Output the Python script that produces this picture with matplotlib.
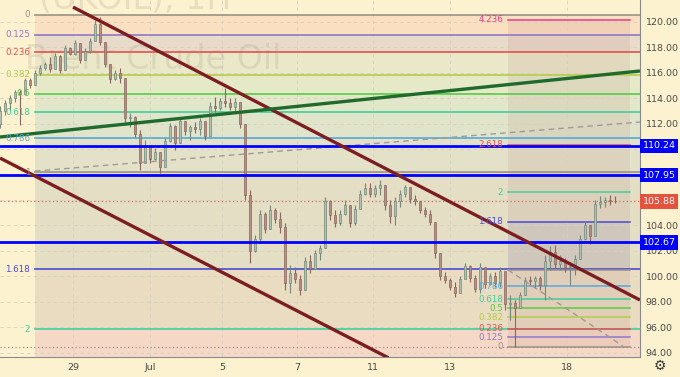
import numpy as np
import matplotlib
matplotlib.use("Agg")
import matplotlib.pyplot as plt
import matplotlib.transforms as mtransforms

# ---- data (prices, time in trading days from 29 Jun) ----
T0 = -1.921
STEP = 0.1316
OPEN_FIRST = 112.0
highs = [113.4, 113.85, 114.24, 114.63, 114.6, 115.58, 115.58, 116.21, 116.6, 116.83,
         117.23, 117.54, 117.38, 118.17, 118.01, 118.56, 118.3, 117.93, 118.72, 120.13,
         120.37, 118.4, 116.7, 116.21, 116.36, 115.6, 112.83, 112.6, 111.49, 110.71,
         110.2, 110.08, 109.8, 110.86, 112.04, 111.89, 112.44, 112.2, 111.89, 112.12,
         112.44, 112.2, 113.69, 114.09, 114.01, 114.79, 114.01, 114.01, 113.7, 112.0,
         106.78, 103.25, 105.21, 105.05, 105.6, 105.37, 105.05, 104.19, 100.89, 100.73,
         100.1, 101.52, 101.67, 102.07, 102.46, 106.23, 105.99, 105.21, 105.21, 105.99,
         105.6, 105.6, 106.78, 107.33, 107.33, 107.17, 107.57, 107.2, 105.99, 106.23,
         106.78, 107.17, 107.0, 106.39, 105.9, 105.44, 105.21, 104.3, 101.8, 100.34,
         99.87, 99.55, 100.02, 101.05, 100.89, 100.1, 101.05, 100.7, 100.26, 100.34,
         100.73, 100.4, 98.53, 98.14, 98.77, 99.95, 100.02, 100.02, 100.02, 101.67,
         102.38, 102.46, 101.67, 101.44, 101.12, 101.67, 103.25, 104.27, 104.0, 105.99,
         106.31, 106.23, 106.39, 106.31]
lows = [111.65, 112.67, 113.06, 113.69, 111.9, 114.3, 114.79, 115.0, 115.81, 116.21,
        116.05, 116.3, 115.97, 116.2, 117.38, 117.38, 116.76, 116.99, 117.54, 118.5,
        118.17, 116.44, 115.18, 115.42, 115.18, 112.04, 111.73, 110.94, 108.35, 108.9,
        108.9, 109.14, 108.12, 108.59, 110.55, 109.92, 110.5, 111.1, 110.71, 111.26,
        111.1, 110.71, 111.0, 112.91, 113.06, 113.3, 113.06, 112.83, 111.65, 105.99,
        101.05, 101.91, 102.62, 103.4, 103.7, 104.19, 103.4, 98.93, 98.69, 99.48,
        98.53, 98.9, 100.26, 100.6, 101.28, 102.2, 104.42, 103.87, 104.03, 104.82,
        103.87, 104.03, 105.3, 106.39, 106.23, 106.23, 106.39, 105.21, 104.19, 104.03,
        105.44, 106.23, 105.76, 105.6, 104.97, 104.66, 104.03, 101.44, 99.71, 99.48,
        98.93, 98.38, 98.7, 99.8, 99.55, 98.77, 98.69, 99.08, 99.32, 99.16,
        99.16, 97.35, 96.57, 94.45, 97.5, 98.5, 99.32, 99.08, 98.93, 98.14,
        100.5, 100.65, 100.5, 100.34, 99.32, 100.1, 101.4, 102.85, 102.54, 103.2,
        105.37, 105.44, 105.6, 105.76]
closes = [113.0, 113.6, 114.0, 114.5, 114.3, 115.4, 115.0, 116.0, 116.4, 116.7,
          116.3, 117.3, 116.2, 117.9, 117.5, 118.3, 117.0, 117.7, 118.5, 119.8,
          118.4, 116.7, 115.5, 116.0, 115.6, 112.4, 112.5, 111.2, 108.9, 110.2,
          109.2, 109.8, 108.6, 110.6, 111.8, 110.5, 112.2, 111.4, 111.7, 111.6,
          112.2, 111.0, 113.4, 113.2, 113.8, 113.6, 113.3, 113.7, 112.0, 106.4,
          102.0, 102.9, 104.9, 103.7, 105.2, 104.5, 103.9, 99.5, 100.3, 99.8,
          98.9, 101.2, 100.6, 101.8, 102.2, 105.9, 104.8, 104.2, 104.9, 105.6,
          104.2, 105.3, 106.5, 106.9, 106.5, 106.9, 107.2, 105.6, 104.7, 105.9,
          106.5, 107.0, 106.1, 105.9, 105.2, 104.9, 104.3, 101.8, 100.0, 99.7,
          99.2, 98.7, 99.8, 100.8, 99.9, 99.0, 100.7, 99.4, 100.0, 99.5,
          100.4, 97.8, 97.9, 97.5, 98.5, 99.7, 99.6, 99.9, 99.3, 101.2,
          101.9, 101.0, 101.2, 100.7, 100.8, 101.4, 102.9, 104.0, 103.2, 105.7,
          105.8, 106.0, 105.9, 105.88]

tick_pos = [0, 2.03, 3.92, 5.89, 7.89, 9.92, 13.0]
tick_lab = ["29", "Jul", "5", "7", "11", "13", "18"]
price_ticks = [94, 96, 98, 100, 102, 104, 112, 114, 116, 118, 120]

# big fibonacci retracement
FIB_X0 = -1.0
FIB_P0, FIB_P1 = 120.53, 108.19
fib_levels = [0, 0.125, 0.236, 0.382, 0.5, 0.618, 0.786, 1, 1.618, 2, 2.618]
fib_labels = ["0", "0.125", "0.236", "0.382", "0.5", "0.618", "0.786", "1", "1.618", "2", ""]
fib_colors = ["#9b9284", "#8f78c8", "#e0534f", "#b3cc4a", "#55cc44", "#3fcf9c",
              "#52a9e0", "#9b9284", "#4b4bd6", "#3fcf9c", "#e0534f"]
fib_bands = ["#fbdfc1", "#e8dbc9", "#ebe8c9", "#e5e9c8", "#e2e7c9", "#e0e4ca",
             "#e3e2c8", "#e3dec4", "#e9dcc1", "#f5d9c6"]

# fibonacci extension
EXT_X0, EXT_X1 = 11.45, 14.66
EXT_P0, EXT_R = 94.45, 6.07
ext_levels = [0, 0.125, 0.236, 0.382, 0.5, 0.618, 0.786, 1, 1.618, 2, 2.618, 4.236]
ext_labels = ["0", "0.125", "0.236", "0.382", "0.5", "0.618", "0.786", "", "1.618", "2", "2.618", "4.236"]
ext_colors = ["#9b9284", "#8f78c8", "#e0534f", "#b3cc4a", "#55cc44", "#3fcf9c",
              "#52a9e0", "#9b9284", "#4b4bd6", "#3fcf9c", "#e0534f", "#e0408a"]

# horizontal levels
blue_levels = [110.24, 107.95, 102.67]
last_price = 105.88
low_price = 94.45

# drawn lines (time, price)
chan_up = ([0.0, 14.92], [121.15, 98.14])
chan_dn = ([-1.921, 8.3], [109.29, 93.6])
green_line = ([-1.921, 14.92], [110.94, 116.13])
dash_1 = ([-1.0, 14.92], [108.27, 112.12])
dash_2 = ([11.45, 14.47], [100.50, 94.53])

BG = "#fdf2cf"
XMIN, XMAX = -1.921, 14.921
YMIN, YMAX = 93.663, 121.705

fig = plt.figure(figsize=(6.8, 3.77), dpi=100, facecolor=BG)
ax = fig.add_axes([0, 20 / 377, 640 / 680, 357 / 377])
ax.set_facecolor(BG)
ax.set_xlim(XMIN, XMAX)
ax.set_ylim(YMIN, YMAX)

# watermark
ax.text(-1.25, 117.0, "Brent Crude Oil", fontsize=24, color="#a09a88", alpha=0.22,
        ha="left", va="center", zorder=0.6)
ax.text(-0.9, 121.0, "(UKOIL), 1H", fontsize=24, color="#a09a88", alpha=0.22,
        ha="left", va="baseline", zorder=0.6)

# big fib bands and lines
fib_p = [FIB_P0 - l * (FIB_P0 - FIB_P1) for l in fib_levels]
for i in range(len(fib_bands)):
    ax.fill_between([FIB_X0, XMAX], fib_p[i + 1], fib_p[i], color=fib_bands[i],
                    lw=0, zorder=0.1)
for p, lab, c in zip(fib_p[:-1], fib_labels, fib_colors):
    ax.plot([FIB_X0, XMAX], [p, p], color=c, lw=1.2, zorder=1)
    ax.annotate(lab, xy=(FIB_X0, p), xytext=(-3.5, 0), textcoords="offset points",
                ha="right", va="center", fontsize=6.3, color=c, zorder=5)

# extension overlay
ext_p = [EXT_P0 + l * EXT_R for l in ext_levels]
ax.fill_between([EXT_X0, EXT_X1], ext_p[0], ext_p[-1], color="#b88a8a", alpha=0.16,
                lw=0, zorder=0.3)
ax.fill_between([EXT_X0, EXT_X1], ext_p[7], ext_p[8], color="#6a7ad0", alpha=0.10,
                lw=0, zorder=0.3)
for p, lab, c in zip(ext_p, ext_labels, ext_colors):
    ax.plot([EXT_X0, EXT_X1], [p, p], color=c, lw=1.1, zorder=1)
    if lab:
        ax.annotate(lab, xy=(EXT_X0, p), xytext=(-3.5, 0), textcoords="offset points",
                    ha="right", va="center", fontsize=6.3, color=c, zorder=5)

# grid
for y in range(94, 122, 2):
    ax.axhline(y, color="#d8d0c0", lw=0.6, ls=(0, (4, 4)), zorder=0.5)
for x in tick_pos:
    ax.axvline(x, color="#d8d0c0", lw=0.6, ls=(0, (4, 4)), zorder=0.5)

# candles
t = T0 + STEP * np.arange(len(closes))
opens = [OPEN_FIRST] + closes[:-1]
o = np.array(opens); c = np.array(closes); h = np.array(highs); l = np.array(lows)
up = c >= o
wick = np.where(up, "#74887a", "#8a675e")
body = np.where(up, "#b3c0b4", "#b39189")
ax.vlines(t, l, h, colors=wick, lw=0.8, zorder=2)
ax.bar(t, np.maximum(np.abs(c - o), 0.06), bottom=np.minimum(o, c), width=STEP * 0.4,
       color=body, edgecolor=wick, linewidth=0.5, zorder=2.1)

# horizontal lines
ax.axhline(last_price, color="#d0706a", lw=0.9, ls=(0, (1, 2)), zorder=1.5)
ax.axhline(low_price, color="#9a8c8c", lw=0.9, ls=(0, (1, 2)), zorder=1.5)
for p in blue_levels:
    ax.axhline(p, color="#0000ff", lw=2.0, zorder=3)

# trend lines
ax.plot(*dash_1, color="#a09a94", lw=1.0, ls=(0, (4, 3)), zorder=2.5)
ax.plot(*dash_2, color="#a09a94", lw=1.0, ls=(0, (4, 3)), zorder=2.5)
ax.plot(*chan_up, color="#7c1d22", lw=2.4, zorder=3, solid_capstyle="butt")
ax.plot(*chan_dn, color="#7c1d22", lw=2.4, zorder=3, solid_capstyle="butt")
ax.plot(*green_line, color="#1f6a2c", lw=2.4, zorder=3, solid_capstyle="butt")

# axes
for s in ["top", "left"]:
    ax.spines[s].set_visible(False)
ax.spines["right"].set_color("#8a8a8a")
ax.spines["bottom"].set_color("#8a8a8a")
ax.spines["right"].set_linewidth(0.8)
ax.spines["bottom"].set_linewidth(0.8)
ax.yaxis.tick_right()
ax.set_yticks(price_ticks)
ax.set_yticklabels([f"{v:.2f}" for v in price_ticks])
ax.tick_params(axis="y", length=0, pad=4, labelsize=6.8, labelcolor="#4a4a4a")
ax.set_xticks(tick_pos)
ax.set_xticklabels(tick_lab)
ax.tick_params(axis="x", length=0, pad=4, labelsize=6.8, labelcolor="#4a4a4a")

# price boxes on the scale
trans = mtransforms.blended_transform_factory(ax.transAxes, ax.transData)
for p in blue_levels:
    ax.text(1.004, p, f"{p:.2f}", transform=trans, ha="left", va="center",
            fontsize=6.8, color="white", clip_on=False, zorder=6,
            bbox=dict(boxstyle="square,pad=0.3", fc="#0000ff", ec="none"))
ax.text(1.004, last_price, f"{last_price:.2f}", transform=trans, ha="left", va="center",
        fontsize=6.8, color="white", clip_on=False, zorder=6,
        bbox=dict(boxstyle="square,pad=0.3", fc="#e5533f", ec="none"))

fig.text(660 / 680, 1 - 366 / 377, "\u2699", fontsize=10, color="#333333",
         ha="center", va="center")

fig.savefig("out.png", dpi=100, facecolor=BG)
